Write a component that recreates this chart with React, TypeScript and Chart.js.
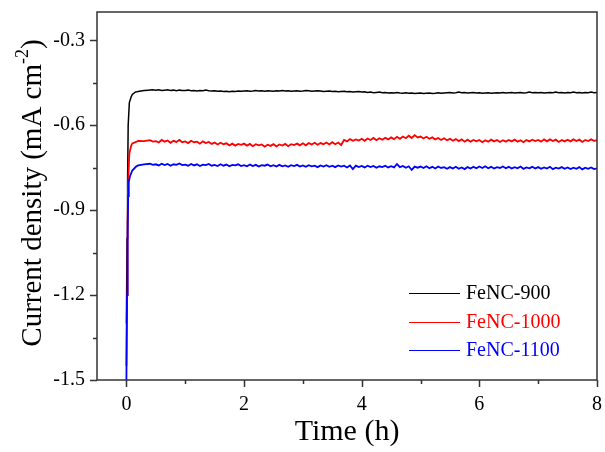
import React, { useEffect, useRef } from "react";
import { Chart, registerables } from "chart.js";

Chart.register(...registerables);

// ---------- data ----------
const seriesLabels = ["FeNC-900", "FeNC-1000", "FeNC-1100"];
const seriesColors = ["#000000", "#ff0000", "#0000ff"];
const seriesWidths = [1.5, 1.8, 1.8];

// initial transient (time in h)
const blackEarlyTime = [0, 0.01, 0.02, 0.03, 0.05, 0.08, 0.1, 0.15, 0.22, 0.3, 0.37, 0.44];
const blackEarly = [-1.3, -1.0, -0.8, -0.6, -0.52, -0.5, -0.491, -0.483, -0.48, -0.477, -0.476, -0.475];

const redEarlyTime = [0, 0.01, 0.02, 0.03, 0.05, 0.08, 0.1, 0.165, 0.2, 0.3, 0.4, 0.45];
const redEarly = [-1.45, -1.2, -0.95, -0.8, -0.7, -0.673, -0.664, -0.659, -0.655, -0.656, -0.653, -0.658];

const blueEarlyTime = [0, 0.01, 0.02, 0.03, 0.04, 0.063, 0.1, 0.165, 0.2, 0.3, 0.4, 0.45];
const blueEarly = [-1.5, -1.2, -0.98, -0.85, -0.8, -0.779, -0.76, -0.746, -0.742, -0.738, -0.736, -0.740];

// steady part, sampled every 0.05 h from 0.5 h to 8 h
const plateauStart = 0.5;
const plateauStep = 0.05;

const blackPlateau = [
  -0.476, -0.475, -0.477, -0.476, -0.475, -0.477, -0.476, -0.478, -0.476, -0.477,
  -0.477, -0.476, -0.478, -0.477, -0.479, -0.477, -0.478, -0.476, -0.478, -0.479,
  -0.478, -0.480, -0.479, -0.481, -0.480, -0.482, -0.480, -0.481, -0.479, -0.480,
  -0.479, -0.478, -0.480, -0.479, -0.477, -0.479, -0.478, -0.480, -0.478, -0.479,
  -0.480, -0.478, -0.479, -0.477, -0.479, -0.478, -0.480, -0.479, -0.478, -0.480,
  -0.479, -0.477, -0.478, -0.480, -0.479, -0.478, -0.479, -0.481, -0.480, -0.479,
  -0.481, -0.480, -0.482, -0.481, -0.480, -0.482, -0.481, -0.483, -0.482, -0.481,
  -0.483, -0.482, -0.484, -0.483, -0.485, -0.484, -0.483, -0.485, -0.484, -0.486,
  -0.485, -0.486, -0.484, -0.486, -0.487, -0.485, -0.487, -0.486, -0.488, -0.487,
  -0.486, -0.488, -0.487, -0.486, -0.488, -0.487, -0.485, -0.487, -0.486, -0.485,
  -0.484, -0.486, -0.485, -0.483, -0.485, -0.484, -0.486, -0.485, -0.484, -0.486,
  -0.485, -0.487, -0.486, -0.485, -0.487, -0.486, -0.485, -0.486, -0.484, -0.486,
  -0.485, -0.484, -0.486, -0.485, -0.484, -0.486, -0.485, -0.483, -0.485, -0.484,
  -0.485, -0.484, -0.486, -0.485, -0.484, -0.485, -0.483, -0.485, -0.484, -0.486,
  -0.484, -0.485, -0.483, -0.485, -0.484, -0.486, -0.484, -0.485, -0.483, -0.485,
  -0.484,
];

const redPlateau = [
  -0.656, -0.661, -0.652, -0.658, -0.654, -0.662, -0.655, -0.659, -0.652, -0.660,
  -0.657, -0.663, -0.655, -0.660, -0.658, -0.665, -0.657, -0.663, -0.659, -0.666,
  -0.661, -0.668, -0.662, -0.667, -0.664, -0.671, -0.665, -0.672, -0.666, -0.669,
  -0.665, -0.672, -0.666, -0.674, -0.667, -0.671, -0.668, -0.676, -0.669, -0.673,
  -0.667, -0.675, -0.668, -0.672, -0.666, -0.674, -0.667, -0.670, -0.665, -0.671,
  -0.664, -0.671, -0.663, -0.668, -0.662, -0.669, -0.663, -0.667, -0.661, -0.668,
  -0.660, -0.667, -0.661, -0.670, -0.652, -0.657, -0.649, -0.655, -0.650, -0.654,
  -0.648, -0.655, -0.647, -0.652, -0.645, -0.653, -0.646, -0.651, -0.644, -0.650,
  -0.643, -0.649, -0.641, -0.648, -0.640, -0.646, -0.637, -0.645, -0.635, -0.643,
  -0.640, -0.647, -0.641, -0.648, -0.643, -0.650, -0.645, -0.652, -0.646, -0.653,
  -0.648, -0.655, -0.649, -0.656, -0.650, -0.658, -0.651, -0.658, -0.652, -0.657,
  -0.652, -0.660, -0.653, -0.658, -0.651, -0.657, -0.652, -0.659, -0.653, -0.658,
  -0.652, -0.657, -0.651, -0.658, -0.653, -0.660, -0.652, -0.657, -0.651, -0.656,
  -0.652, -0.658, -0.650, -0.657, -0.650, -0.656, -0.651, -0.659, -0.652, -0.657,
  -0.651, -0.657, -0.650, -0.656, -0.651, -0.659, -0.652, -0.656, -0.650, -0.655,
  -0.653,
];

const bluePlateau = [
  -0.738, -0.742, -0.736, -0.741, -0.737, -0.743, -0.738, -0.740, -0.735, -0.741,
  -0.739, -0.743, -0.737, -0.742, -0.738, -0.744, -0.739, -0.741, -0.737, -0.743,
  -0.740, -0.744, -0.738, -0.743, -0.739, -0.745, -0.740, -0.742, -0.738, -0.744,
  -0.741, -0.745, -0.739, -0.744, -0.740, -0.746, -0.741, -0.743, -0.739, -0.745,
  -0.741, -0.746, -0.740, -0.745, -0.742, -0.747, -0.741, -0.744, -0.740, -0.746,
  -0.742, -0.747, -0.741, -0.745, -0.743, -0.748, -0.742, -0.746, -0.741, -0.747,
  -0.743, -0.748, -0.742, -0.746, -0.743, -0.749, -0.742, -0.755, -0.743, -0.748,
  -0.744, -0.749, -0.743, -0.748, -0.744, -0.750, -0.745, -0.748, -0.743, -0.749,
  -0.745, -0.749, -0.737, -0.748, -0.744, -0.750, -0.745, -0.758, -0.746, -0.750,
  -0.746, -0.751, -0.745, -0.752, -0.747, -0.753, -0.746, -0.751, -0.748, -0.754,
  -0.748, -0.753, -0.747, -0.754, -0.749, -0.755, -0.748, -0.753, -0.747, -0.752,
  -0.746, -0.751, -0.745, -0.752, -0.747, -0.753, -0.748, -0.751, -0.746, -0.752,
  -0.747, -0.753, -0.748, -0.752, -0.746, -0.754, -0.749, -0.752, -0.747, -0.753,
  -0.748, -0.754, -0.749, -0.753, -0.747, -0.755, -0.750, -0.753, -0.748, -0.754,
  -0.749, -0.755, -0.750, -0.754, -0.748, -0.756, -0.750, -0.754, -0.749, -0.755,
  -0.752,
];

const xTicks = [0, 2, 4, 6, 8];
const xMinorTicks = [1, 3, 5, 7];
const yTicks = [-1.5, -1.2, -0.9, -0.6, -0.3];
const yMinorTicks = [-1.35, -1.05, -0.75, -0.45];
const xTitle = "Time (h)";
const yTitleMain = "Current density (mA cm";
const yTitleSup = "-2";
const yTitleEnd = ")";

// ---------- helpers ----------
function buildPoints(earlyT: number[], earlyV: number[], plateau: number[]) {
  const pts = earlyT.map((t, i) => ({ x: t, y: earlyV[i] }));
  plateau.forEach((v, i) => pts.push({ x: +(plateauStart + i * plateauStep).toFixed(3), y: v }));
  return pts;
}

const FAMILY = "'Liberation Serif', serif";
const FONT = "'Liberation Serif', serif";
const AXIS_COLOR = "#333333";

Chart.defaults.font.family = FAMILY;

const decorPlugin = {
  id: "decor",
  afterDraw(chart: any) {
    const { ctx, chartArea, scales } = chart;
    const { left, right, top, bottom } = chartArea;
    const xs = scales.x;
    const ys = scales.y;
    ctx.save();
    // frame
    ctx.strokeStyle = AXIS_COLOR;
    ctx.lineWidth = 1.5;
    ctx.strokeRect(left, top, right - left, bottom - top);
    // ticks
    ctx.beginPath();
    xTicks.forEach((v) => {
      const p = Math.round(xs.getPixelForValue(v)) + 0.5;
      ctx.moveTo(p, bottom);
      ctx.lineTo(p, bottom + 7);
    });
    xMinorTicks.forEach((v) => {
      const p = Math.round(xs.getPixelForValue(v)) + 0.5;
      ctx.moveTo(p, bottom);
      ctx.lineTo(p, bottom + 4);
    });
    yTicks.forEach((v) => {
      const p = Math.round(ys.getPixelForValue(v)) + 0.5;
      ctx.moveTo(left, p);
      ctx.lineTo(left - 7, p);
    });
    yMinorTicks.forEach((v) => {
      const p = Math.round(ys.getPixelForValue(v)) + 0.5;
      ctx.moveTo(left, p);
      ctx.lineTo(left - 4, p);
    });
    ctx.stroke();

    // x title
    ctx.fillStyle = "#000";
    ctx.font = `30px ${FONT}`;
    ctx.textAlign = "center";
    ctx.textBaseline = "middle";
    ctx.fillText(xTitle, (left + right) / 2, 432);

    // y title with superscript
    ctx.save();
    ctx.translate(33, (top + bottom) / 2 - 3);
    ctx.rotate(-Math.PI / 2);
    const mainFont = `29px ${FONT}`;
    const supFont = `18px ${FONT}`;
    ctx.font = mainFont;
    const w1 = ctx.measureText(yTitleMain).width;
    const w3 = ctx.measureText(yTitleEnd).width;
    ctx.font = supFont;
    const w2 = ctx.measureText(yTitleSup).width;
    const total = w1 + w2 + w3;
    let xpos = -total / 2;
    ctx.textAlign = "left";
    ctx.textBaseline = "middle";
    ctx.font = mainFont;
    ctx.fillText(yTitleMain, xpos, 0);
    xpos += w1;
    ctx.font = supFont;
    ctx.fillText(yTitleSup, xpos, -10);
    xpos += w2;
    ctx.font = mainFont;
    ctx.fillText(yTitleEnd, xpos, 0);
    ctx.restore();

    // legend
    const legendRows = [293, 322, 350];
    ctx.font = `20px ${FONT}`;
    ctx.textAlign = "left";
    ctx.textBaseline = "middle";
    chart.data.datasets.forEach((ds: any, i: number) => {
      const yy = legendRows[i];
      ctx.strokeStyle = ds.borderColor;
      ctx.lineWidth = 1.2;
      ctx.beginPath();
      ctx.moveTo(409, yy + 0.5);
      ctx.lineTo(460, yy + 0.5);
      ctx.stroke();
      ctx.fillStyle = ds.borderColor;
      ctx.fillText(ds.label, 466, yy + 1);
    });
    ctx.restore();
  },
};

export default function App() {
  const canvasRef = useRef<HTMLCanvasElement | null>(null);

  useEffect(() => {
    const canvas = canvasRef.current;
    if (!canvas) return;
    const datasets = [
      buildPoints(blackEarlyTime, blackEarly, blackPlateau),
      buildPoints(redEarlyTime, redEarly, redPlateau),
      buildPoints(blueEarlyTime, blueEarly, bluePlateau),
    ].map((pts, i) => ({
      label: seriesLabels[i],
      data: pts,
      borderColor: seriesColors[i],
      backgroundColor: seriesColors[i],
      borderWidth: seriesWidths[i],
      pointRadius: 0,
      tension: 0,
      fill: false,
      order: 2 - i,
    }));

    const chart = new Chart(canvas, {
      type: "line",
      data: { datasets },
      options: {
        animation: false,
        responsive: false,
        devicePixelRatio: 1,
        layout: { autoPadding: false, padding: { top: 12, right: 8, left: 0, bottom: 0 } },
        plugins: { legend: { display: false }, tooltip: { enabled: false }, title: { display: false } },
        scales: {
          x: {
            type: "linear",
            min: -0.5,
            max: 8,
            grid: { display: false, drawTicks: false },
            border: { display: false },
            afterBuildTicks: (scale: any) => {
              scale.ticks = xTicks.map((v) => ({ value: v }));
            },
            afterFit: (scale: any) => {
              scale.height = 72;
              scale.paddingLeft = 0;
              scale.paddingRight = 0;
            },
            ticks: {
              padding: 13,
              color: "#000",
              font: { family: FAMILY, size: 20 },
              maxRotation: 0,
              callback: (v: any) => String(v),
            },
          },
          y: {
            type: "linear",
            min: -1.5,
            max: -0.2,
            grid: { display: false, drawTicks: false },
            border: { display: false },
            afterBuildTicks: (scale: any) => {
              scale.ticks = yTicks.map((v) => ({ value: v }));
            },
            afterFit: (scale: any) => {
              scale.width = 97;
              scale.paddingTop = 0;
              scale.paddingBottom = 0;
            },
            ticks: {
              padding: 12,
              color: "#000",
              font: { family: FAMILY, size: 20 },
              callback: (v: any) => Number(v).toFixed(1),
            },
          },
        },
      },
      plugins: [decorPlugin],
    } as any);

    return () => chart.destroy();
  }, []);

  return (
    <div style={{ position: "fixed", left: 0, top: 0, width: 605, height: 452, background: "#fff" }}>
      <canvas ref={canvasRef} width={605} height={452} style={{ width: 605, height: 452, display: "block" }} />
    </div>
  );
}
